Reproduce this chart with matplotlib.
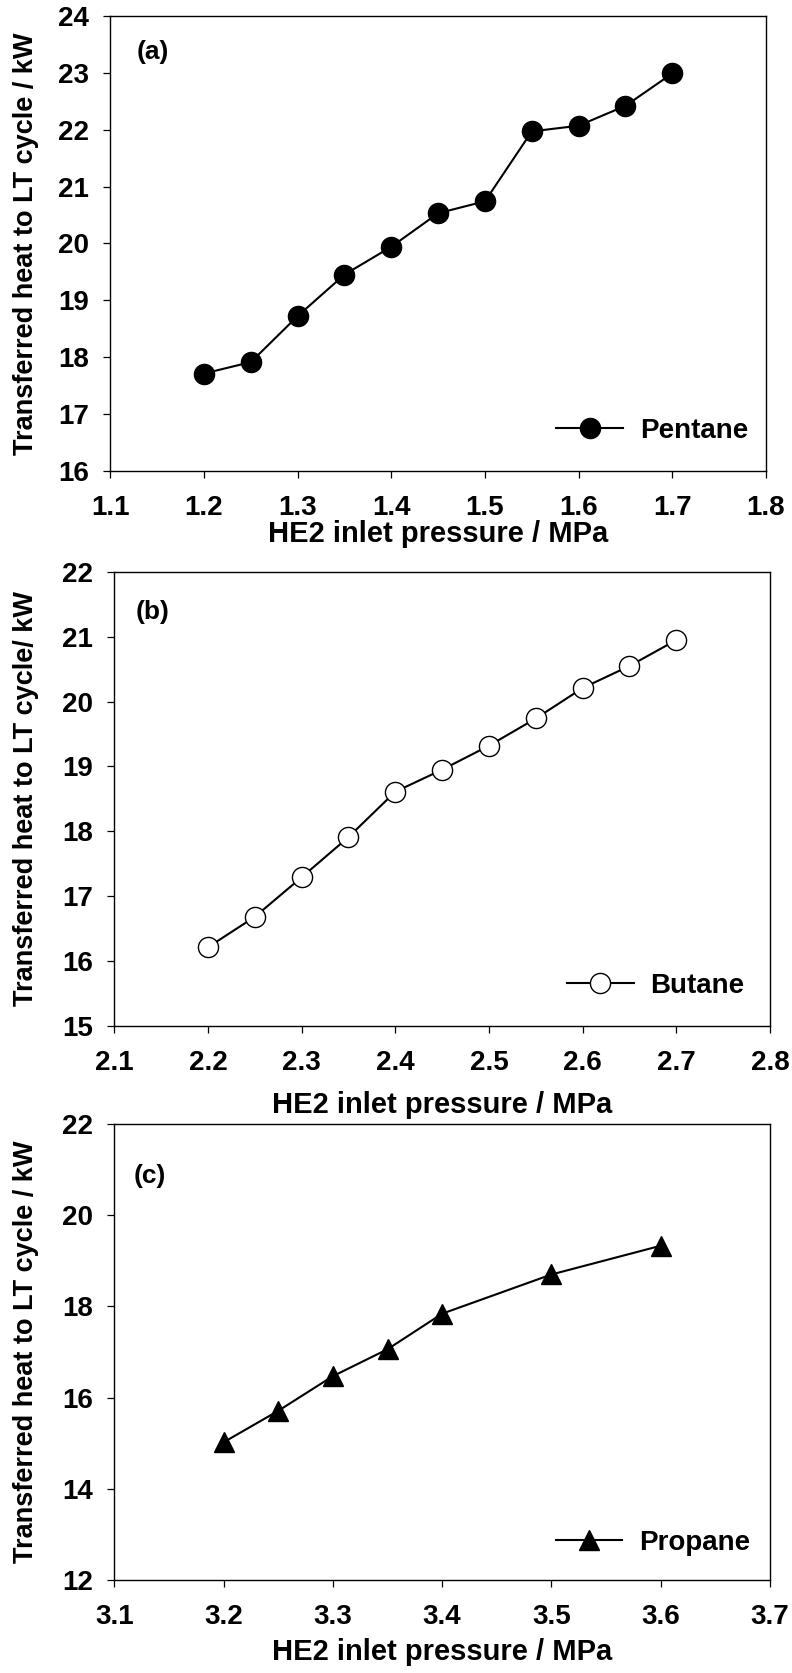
import matplotlib
matplotlib.use("Agg")
import matplotlib.pyplot as plt

plt.rcParams['font.family'] = ['Liberation Sans', 'DejaVu Sans']
plt.rcParams['font.weight'] = 'bold'

# Data
p_pentane = [1.2, 1.25, 1.3, 1.35, 1.4, 1.45, 1.5, 1.55, 1.6, 1.65, 1.7]
q_pentane = [17.71, 17.91, 18.72, 19.45, 19.94, 20.53, 20.74, 21.97, 22.07, 22.42, 22.99]

p_butane = [2.2, 2.25, 2.3, 2.35, 2.4, 2.45, 2.5, 2.55, 2.6, 2.65, 2.7]
q_butane = [16.21, 16.68, 17.29, 17.91, 18.61, 18.95, 19.32, 19.74, 20.21, 20.55, 20.95]

p_propane = [3.2, 3.25, 3.3, 3.35, 3.4, 3.5, 3.6]
q_propane = [15.02, 15.71, 16.47, 17.06, 17.84, 18.70, 19.33]

xticks_a = [1.1, 1.2, 1.3, 1.4, 1.5, 1.6, 1.7, 1.8]
yticks_a = [16, 17, 18, 19, 20, 21, 22, 23, 24]
xticks_b = [2.1, 2.2, 2.3, 2.4, 2.5, 2.6, 2.7, 2.8]
yticks_b = [15, 16, 17, 18, 19, 20, 21, 22]
xticks_c = [3.1, 3.2, 3.3, 3.4, 3.5, 3.6, 3.7]
yticks_c = [12, 14, 16, 18, 20, 22]

xlabel = "HE2 inlet pressure / MPa"
ylabels = ["Transferred heat to LT cycle / kW",
           "Transferred heat to LT cycle/ kW",
           "Transferred heat to LT cycle / kW"]
panel_labels = ["(a)", "(b)", "(c)"]
legend_names = ["Pentane", "Butane", "Propane"]

W, H = 792, 1673
fig = plt.figure(figsize=(W / 100, H / 100), dpi=100)

def px_axes(l, r, t, b):
    return fig.add_axes([l / W, (H - b) / H, (r - l) / W, (b - t) / H])

axes = [px_axes(110.3, 766, 16, 470.7),
        px_axes(114.3, 770, 572, 1025.7),
        px_axes(114.3, 770, 1124, 1580)]

series = [
    (p_pentane, q_pentane, dict(marker='o', mfc='black', mec='black')),
    (p_butane, q_butane, dict(marker='o', mfc='white', mec='black', mew=1.0)),
    (p_propane, q_propane, dict(marker='^', mfc='black', mec='black')),
]
xt = [xticks_a, xticks_b, xticks_c]
yt = [yticks_a, yticks_b, yticks_c]
msizes = [14.5, 14.5, 14.5]
panel_pos = [(0.040, 0.921), (0.033, 0.912), (0.029, 0.886)]
legend_pos = [(0.9725, 0.088), (0.961, 0.0875), (0.9695, 0.081)]
xlabel_off = [-0.1385, -0.175, -0.158]
ylabel_off = [-0.128, -0.134, -0.134]

for i, ax in enumerate(axes):
    x, y, st = series[i]
    ax.plot(x, y, color='black', lw=1.5, ms=msizes[i], label=legend_names[i], **st)
    ax.set_xlim(xt[i][0], xt[i][-1])
    ax.set_ylim(yt[i][0], yt[i][-1])
    ax.set_xticks(xt[i])
    ax.set_yticks(yt[i])
    ax.set_xticklabels([f"{v:.1f}" for v in xt[i]])
    ax.set_yticklabels([f"{v:d}" for v in yt[i]])
    ax.tick_params(axis='both', direction='out', length=5, width=0.9, labelsize=20, colors='black')
    ax.tick_params(axis='x', pad=12.5)
    ax.tick_params(axis='y', pad=10.5)
    for lab in ax.get_xticklabels() + ax.get_yticklabels():
        lab.set_fontweight('bold')
    for s in ax.spines.values():
        s.set_linewidth(1.0)
        s.set_color('black')
    ax.set_xlabel(xlabel, fontsize=21, fontweight='bold')
    ax.xaxis.set_label_coords(0.5, xlabel_off[i])
    ax.xaxis.label.set_va('center')
    ax.set_ylabel(ylabels[i], fontsize=19.5, fontweight='bold')
    ax.yaxis.set_label_coords(ylabel_off[i], 0.5)
    ax.yaxis.label.set_va('center')
    ax.text(panel_pos[i][0], panel_pos[i][1], panel_labels[i], transform=ax.transAxes,
            fontsize=19, fontweight='bold', ha='left', va='center')
    leg = ax.legend(loc='center right', bbox_to_anchor=legend_pos[i], frameon=False,
                    borderpad=0, borderaxespad=0, handlelength=2.4,
                    handletextpad=0.6, prop={'weight': 'bold', 'size': 20})

fig.savefig("out.png", dpi=100)
